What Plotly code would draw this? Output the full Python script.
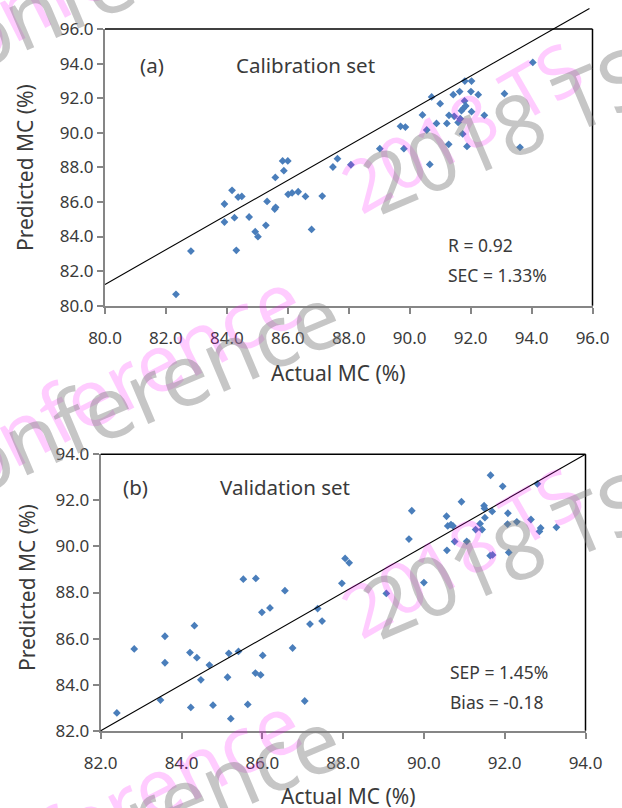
import plotly.graph_objects as go

W, H = 622, 808

# ---------------- data ----------------
cal_actual = [82.33, 82.82, 83.92, 83.92, 84.17, 84.25, 84.31, 84.37, 84.49, 84.73,
              84.93, 85.02, 85.28, 85.32, 85.57, 85.60, 85.59, 85.83, 85.87, 86.00,
              86.01, 86.14, 86.34, 86.58, 86.78, 87.13, 87.48, 87.63, 88.07,
              89.02, 89.81, 89.70, 89.86, 90.66, 90.42, 90.56, 90.72, 90.88, 91.00,
              91.22, 91.28, 91.29, 91.43, 91.46, 91.64, 91.59, 91.66, 91.74, 91.88,
              91.70, 91.76, 91.80, 91.84, 91.81, 92.03, 92.01, 92.03, 92.25, 92.45,
              93.11, 93.62, 94.04]
cal_pred = [80.66, 83.16, 85.88, 84.84, 86.67, 85.09, 83.20, 86.28, 86.32, 85.13,
            84.28, 83.99, 84.65, 86.03, 85.59, 85.69, 87.42, 88.37, 87.81, 88.37,
            86.44, 86.52, 86.59, 86.32, 84.41, 86.34, 88.02, 88.50, 88.15,
            89.08, 89.08, 90.37, 90.33, 88.17, 91.03, 90.16, 92.07, 90.54, 91.68,
            90.54, 89.33, 91.01, 92.20, 90.95, 92.38, 90.60, 90.81, 89.93, 89.21,
            91.28, 91.41, 91.84, 91.55, 92.99, 92.99, 92.38, 91.22, 92.20, 91.01,
            92.26, 89.16, 94.07]

val_actual = [82.40, 82.83, 83.48, 83.59, 83.59, 84.21, 84.23, 84.32, 84.38, 84.48,
              84.69, 84.78, 85.14, 85.17, 85.22, 85.41, 85.53, 85.64, 85.83, 85.84,
              85.96, 85.99, 86.01, 86.19, 86.56, 86.75, 87.05, 87.18, 87.37, 87.48,
              87.97, 88.05, 88.15,
              89.07, 89.63, 89.70, 90.00, 90.56, 90.57, 90.59, 90.67, 90.72, 90.76,
              90.93, 91.06, 91.28, 91.39, 91.44, 91.51, 91.49, 91.50, 91.69, 91.65,
              91.64, 91.70, 91.95, 92.08, 92.07, 92.10, 92.30, 92.65, 92.81, 92.86,
              92.89, 93.28]
val_pred = [82.77, 85.55, 83.33, 86.10, 84.95, 85.39, 83.01, 86.56, 85.17, 84.21,
            84.85, 83.11, 84.32, 85.36, 82.52, 85.44, 88.58, 83.14, 84.50, 88.61,
            84.42, 87.14, 85.27, 87.33, 88.08, 85.59, 83.29, 86.63, 87.30, 86.76,
            88.40, 89.48, 89.29,
            87.96, 90.32, 91.55, 88.43, 91.31, 89.83, 90.89, 90.95, 90.89, 90.21,
            91.94, 90.22, 90.73, 90.99, 90.73, 91.25, 91.77, 91.65, 91.52, 93.09,
            89.60, 89.63, 92.61, 91.44, 90.97, 89.74, 91.07, 91.17, 92.72, 90.65,
            90.80, 90.83]

cal_range = [80, 96]
val_range = [82, 94]
# reference / fitted lines: (x_start, y_start, x_end, y_end)
cal_line = [80.0, 81.23, 95.9, 97.19]
val_line = [82.0, 82.0, 94.0, 94.0]

cal_texts = ["(a)", "Calibration set", "R = 0.92", "SEC = 1.33%"]
val_texts = ["(b)", "Validation set", "SEP = 1.45%", "Bias = -0.18"]
x_title = "Actual MC (%)"
y_title = "Predicted MC (%)"

# ---------------- layout helpers ----------------
def px(x):
    return x / W

def py(y):
    return 1 - y / H

FONT = "Noto Sans"
TXT = "#3a3a3a"
AX = "#868686"
BLUE = "#4A7EBB"

fig = go.Figure()
fig.add_trace(go.Scatter(x=cal_actual, y=cal_pred, mode="markers",
                         marker=dict(symbol="diamond", size=6, color=BLUE),
                         xaxis="x", yaxis="y", showlegend=False))
fig.add_trace(go.Scatter(x=val_actual, y=val_pred, mode="markers",
                         marker=dict(symbol="diamond", size=6, color=BLUE),
                         xaxis="x2", yaxis="y2", showlegend=False))

def axis(dom, rng, anchor):
    return dict(domain=dom, range=rng, autorange=False, anchor=anchor,
                tickmode="linear", tick0=rng[0], dtick=2, tickformat=".1f",
                showline=True, linecolor=AX, linewidth=2,
                ticks="outside", ticklen=6, tickwidth=2, tickcolor=AX,
                showgrid=False, zeroline=False, automargin=False,
                tickfont=dict(family=FONT, size=17, color=TXT))

top = dict(l=105, r=592.5, t=29, b=305.7)
bot = dict(l=100.7, r=585.5, t=454.3, b=730.7)

fig.update_layout(
    width=W, height=H, margin=dict(l=0, r=0, t=0, b=0, autoexpand=False),
    paper_bgcolor="white", plot_bgcolor="white",
    xaxis=axis([px(top["l"]), px(top["r"])], cal_range, "y"),
    yaxis=axis([py(top["b"]), py(top["t"])], cal_range, "x"),
    xaxis2=axis([px(bot["l"]), px(bot["r"])], val_range, "y2"),
    yaxis2=axis([py(bot["b"]), py(bot["t"])], val_range, "x2"),
)
fig.update_xaxes(ticklabelstandoff=10)

shapes = []
for xr, yr in (("x", "y"), ("x2", "y2")):
    # black top and right frame
    shapes.append(dict(type="line", xref=xr + " domain", yref=yr + " domain",
                       x0=0, x1=1, y0=1, y1=1, line=dict(color="black", width=1.5)))
    shapes.append(dict(type="line", xref=xr + " domain", yref=yr + " domain",
                       x0=1, x1=1, y0=0, y1=1, line=dict(color="black", width=1.5)))

def add_line(ln, rng, xr, yr):
    span = rng[1] - rng[0]
    shapes.append(dict(type="line", xref=xr + " domain", yref=yr + " domain",
                       x0=(ln[0] - rng[0]) / span, y0=(ln[1] - rng[0]) / span,
                       x1=(ln[2] - rng[0]) / span, y1=(ln[3] - rng[0]) / span,
                       line=dict(color="black", width=1.1)))

add_line(cal_line, cal_range, "x", "y")
add_line(val_line, val_range, "x2", "y2")
fig.update_layout(shapes=shapes)

ann = []
def text(s, x, y, size, xanchor="left", angle=0, color=TXT):
    ann.append(dict(text=s, x=px(x), y=py(y), xref="paper", yref="paper",
                    xanchor=xanchor, yanchor="middle", showarrow=False,
                    textangle=angle, font=dict(family=FONT, size=size, color=color)))

# watermarks (semi-transparent overlay of the source document)
PINK = "rgba(255,0,255,0.2)"
GRAY = "rgba(128,128,128,0.45)"
for dy in (-425, 0, 425):
    text("Conference", 102, 388 + dy, 80, "center", -27, PINK)
    text("Conference", 122, 398 + dy, 86, "center", -23, GRAY)
for dy in (0, 425):
    text("2018 TS", 461, 126 + dy, 72, "center", -30, PINK)
    text("2018 TS", 505, 128 + dy, 82, "center", -23, GRAY)

text(cal_texts[0], 138, 65, 20.5)
text(cal_texts[1], 234, 65, 20.5)
text(cal_texts[2], 446, 245, 17.5)
text(cal_texts[3], 446, 274.5, 17.5)
text(val_texts[0], 121, 487, 20.5)
text(val_texts[1], 218, 487, 20.5)
text(val_texts[2], 448, 672, 17.5)
text(val_texts[3], 448, 701.5, 17.5)

text(x_title, 338, 373, 21, "center")
text(x_title, 348, 795.5, 21, "center")
text(y_title, 25, 168, 21, "center", -90)
text(y_title, 27, 588, 21, "center", -90)

fig.update_layout(annotations=ann)
fig.write_html("out.html", config={"displayModeBar": False},
               post_script="document.body.style.margin='0';"
                           "document.body.style.overflow='hidden';")
